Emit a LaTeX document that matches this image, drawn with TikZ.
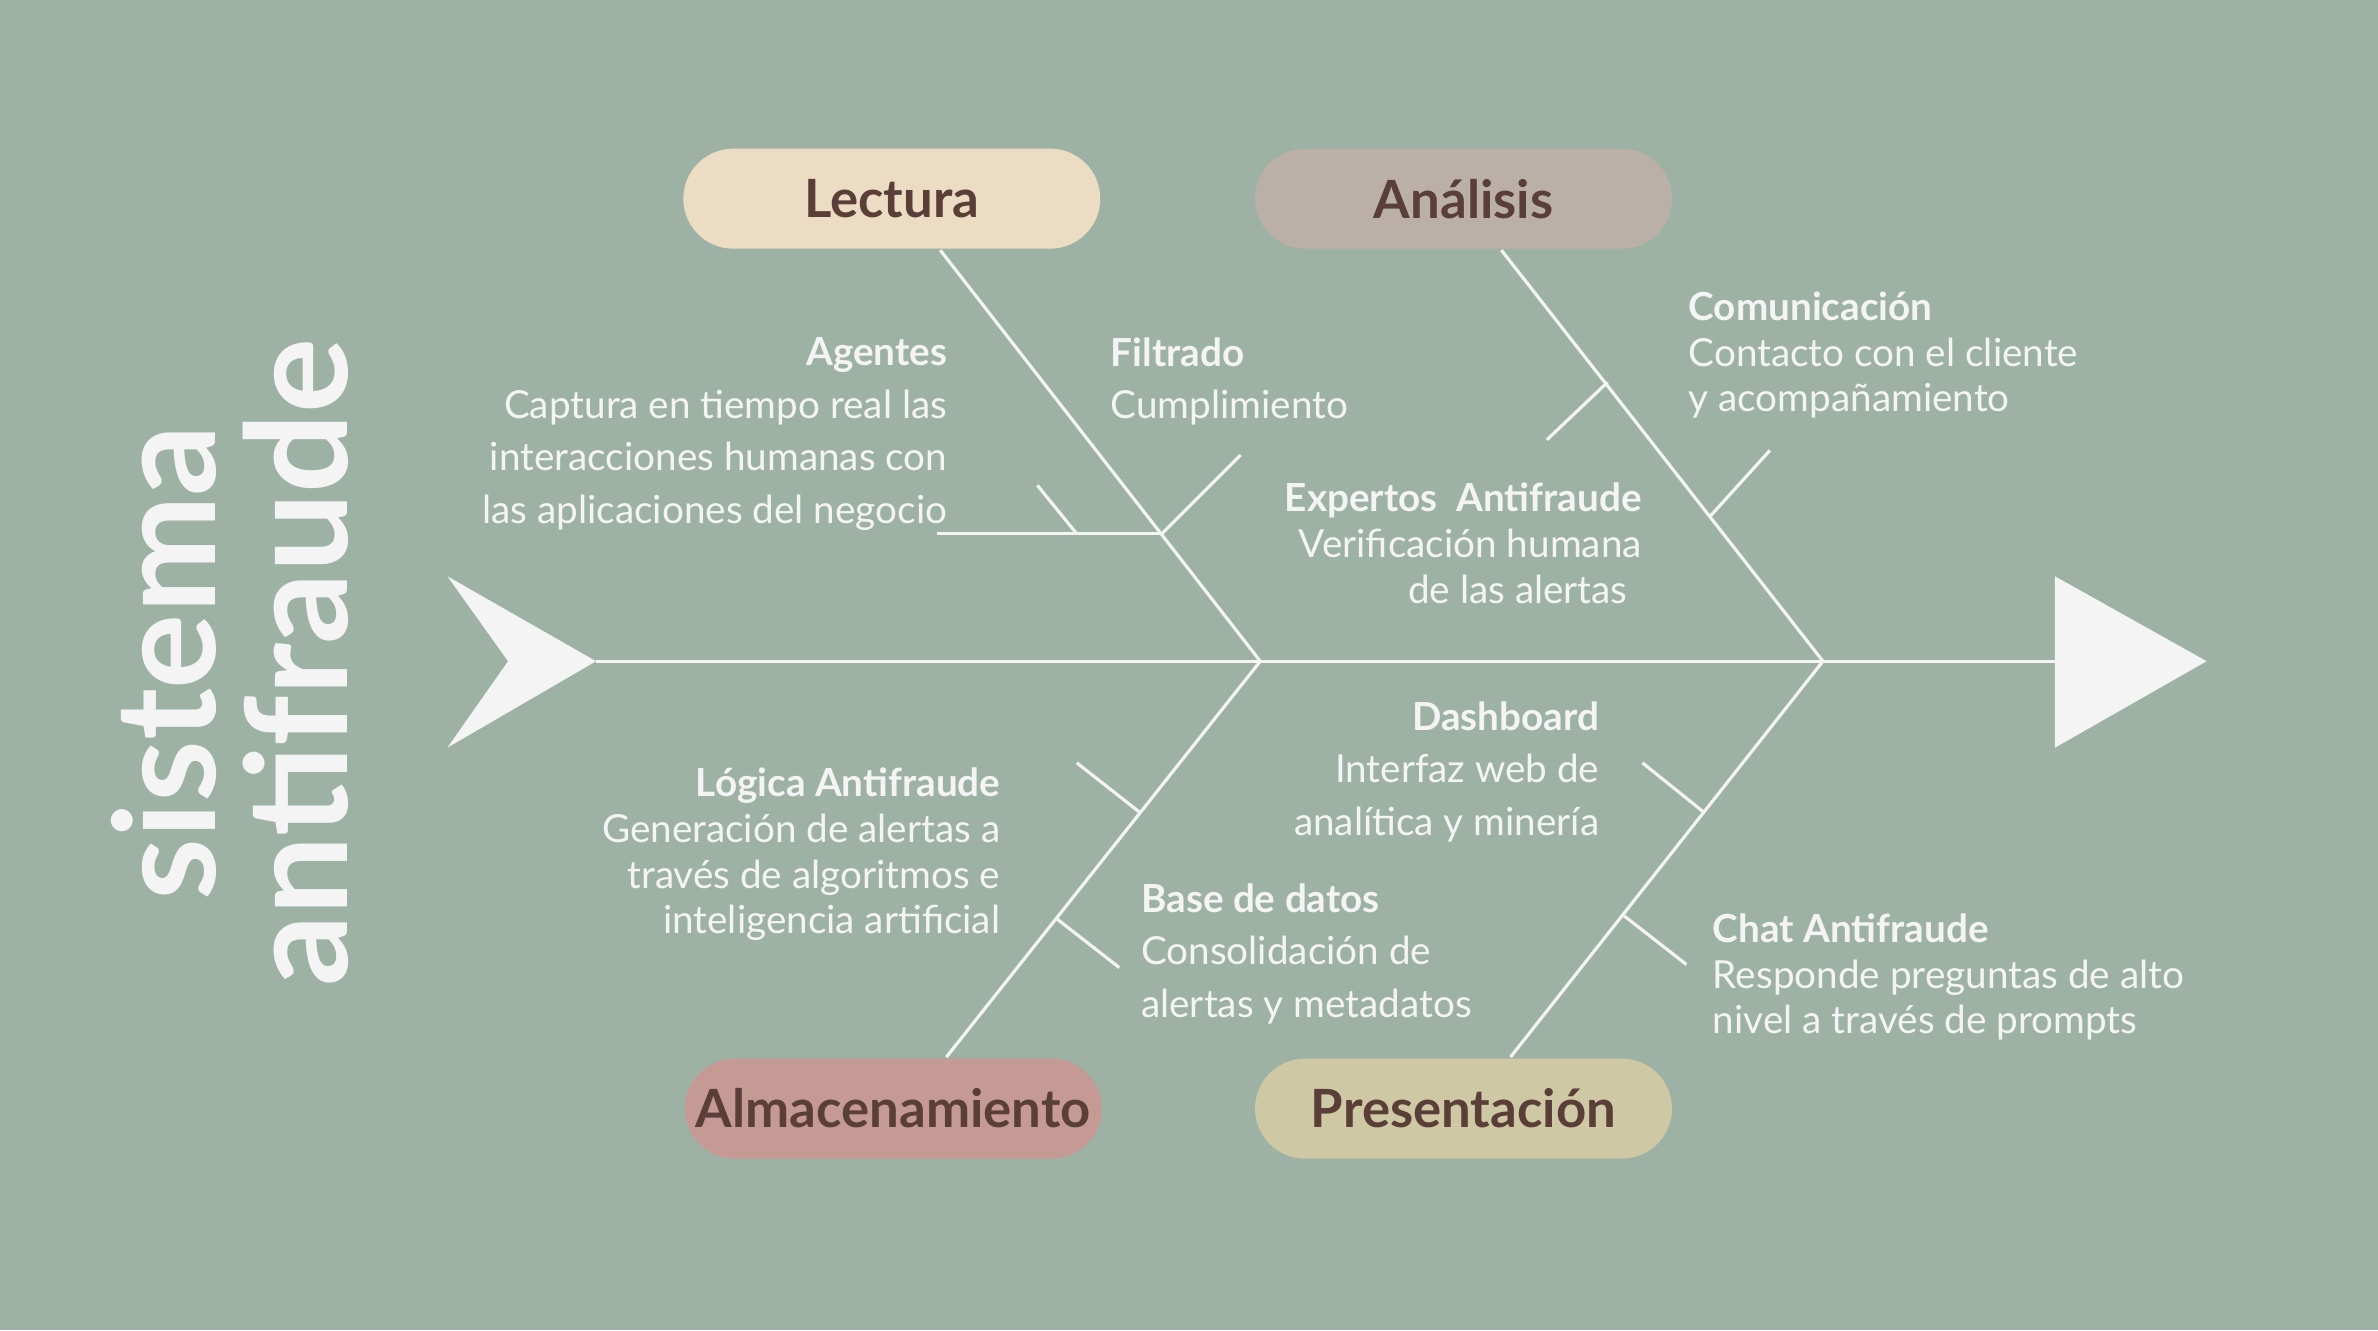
\documentclass[tikz,border=0pt]{standalone}
\usepackage{fontspec}
\setmainfont{Lato}
\usetikzlibrary{shapes}
\definecolor{bgsage}{HTML}{9DB2A5}
\definecolor{pillA}{HTML}{EBDCC3}
\definecolor{pillB}{HTML}{BBB0A7}
\definecolor{pillC}{HTML}{C69A94}
\definecolor{pillD}{HTML}{CEC8A4}
\definecolor{darkbrown}{HTML}{5A3E38}
\definecolor{offwhite}{HTML}{F4F4F4}

\begin{document}
\begin{tikzpicture}[x=0.015166cm, y=-0.015166cm]
	\tikzstyle{bone} = [draw=offwhite, line width=0.9pt]
	\tikzstyle{pill} = [rounded corners=0.5cm, minimum width=4.17cm, minimum height=1cm, inner sep=0,
		font=\fontsize{15}{18}\selectfont\bfseries, text=darkbrown]
	\tikzstyle{note} = [inner sep=0, text=offwhite, font=\fontsize{11}{13}\selectfont]
	\tikzstyle{blank} = [inner sep=0, minimum size=0]

	\fill[bgsage] (0,0) rectangle (1568,877);

	% title
	\node[note, rotate=90, font=\fontsize{40}{44}\selectfont\bfseries] (t1) at (108,437) {sistema};
	\node[note, rotate=90, font=\fontsize{40}{44}\selectfont\bfseries] (t2) at (195,437) {antifraude};

	% spine and head/tail
	\coordinate (tail) at (393,436);
	\coordinate (head) at (1360,436);
	\coordinate (j1) at (831,436);
	\coordinate (j2) at (1202,436);
	\fill[offwhite] (295,380) -- (tail) -- (295,493) -- (335,436) -- cycle;
	\fill[offwhite] (1355,380) -- (1455,436) -- (1355,493) -- cycle;
	\draw[bone] (tail) -- (head);

	% category pills
	\node[pill, fill=pillA] (lec) at (588,131) {Lectura};
	\node[pill, fill=pillB] (ana) at (965,131) {Análisis};
	\node[pill, fill=pillC] (alm) at (589,731) {Almacenamiento};
	\node[pill, fill=pillD] (pre) at (965,731) {Presentación};

	\draw[bone] (620,165) -- (j1);
	\draw[bone] (990,165) -- (j2);
	\draw[bone] (624,697) -- (j1);
	\draw[bone] (996,697) -- (j2);

	% ribs
	\coordinate (r1) at (766,352);
	\draw[bone] (618,352) -- (r1);
	\draw[bone] (684,320) -- (710,352);
	\draw[bone] (r1) -- (818,300);
	\draw[bone] (1020,290) -- (1060,252);
	\draw[bone] (1128,340) -- (1167,297);
	\draw[bone] (710,503) -- (752,536);
	\draw[bone] (697,606) -- (738,638);
	\draw[bone] (1083,503) -- (1124,536);
	\draw[bone] (1071,604) -- (1112,636);

	% labels
	\node[note, anchor=north east, align=right] (agt) at (625,222) {\textbf{Agentes}\\[2pt]Captura en tiempo real las\\[2pt]interacciones humanas con\\[2pt]las aplicaciones del negocio};
	\node[note, anchor=north west, align=left] (fil) at (732,222) {\textbf{Filtrado}\\[2pt]Cumplimiento};
	\node[note, anchor=north west, align=left] (com) at (1113,192) {\textbf{Comunicación}\\Contacto con el cliente\\y acompañamiento};
	\node[note, anchor=north east, align=right] (exp) at (1083,318) {\textbf{Expertos\ \ Antifraude}\\Verificación humana\hspace*{4pt}\\de las alertas\hspace*{4pt}};
	\node[note, anchor=north east, align=right] (das) at (1055,462) {\textbf{Dashboard}\\[2pt]Interfaz web de\\[2pt]analítica y minería};
	\node[note, anchor=north east, align=right] (log) at (660,506) {\textbf{Lógica Antifraude}\\Generación de alertas a\\través de algoritmos e\\inteligencia artificial};
	\node[note, anchor=north west, align=left] (bdd) at (752,582) {\textbf{Base de datos}\\[2pt]Consolidación de\\[2pt]alertas y metadatos};
	\node[note, anchor=north west, align=left] (cha) at (1129,602) {\textbf{Chat Antifraude}\\Responde preguntas de alto\\nivel a través de prompts};
\end{tikzpicture}
\end{document}
